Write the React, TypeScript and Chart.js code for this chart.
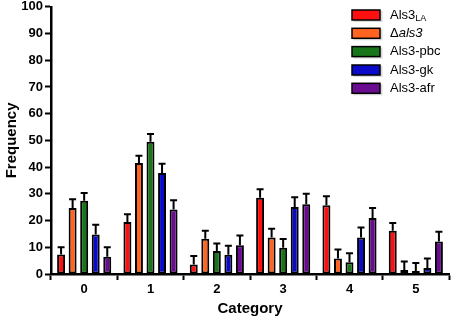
import React, { useEffect, useRef } from "react";
import { Chart, registerables } from "chart.js";

Chart.register(...registerables);

const categories = ["0", "1", "2", "3", "4", "5"];
const seriesNames = ["Als3LA", "Δals3", "Als3-pbc", "Als3-gk", "Als3-afr"];
const als3LA = [7.3, 19.5, 3.6, 28.5, 25.7, 16.2];
const als3LAErr = [2.7, 2.9, 3.1, 3.2, 3.4, 2.9];
const deltaAls3 = [24.7, 41.5, 13.2, 13.7, 5.8, 1.5];
const deltaAls3Err = [3.3, 2.8, 3.0, 3.2, 3.4, 3.2];
const als3Pbc = [27.4, 49.5, 8.6, 9.8, 4.4, 1.1];
const als3PbcErr = [2.9, 2.9, 2.8, 3.3, 3.4, 3.0];
const als3Gk = [14.8, 37.8, 7.2, 25.1, 13.7, 2.2];
const als3GkErr = [3.6, 3.5, 3.4, 3.6, 3.7, 3.6];
const als3Afr = [6.5, 24.1, 10.8, 26.1, 21.0, 12.2];
const als3AfrErr = [3.5, 3.5, 3.6, 3.9, 3.7, 3.6];
const colors = ["#ff1010", "#ff6420", "#197519", "#0a0ac8", "#6a0c90"];

const errors = [als3LAErr, deltaAls3Err, als3PbcErr, als3GkErr, als3AfrErr];

const FONT = "Arial, 'Liberation Sans', Helvetica, sans-serif";
const SHIFT = 3;

const errorBarPlugin = {
  id: "errorBars",
  afterDatasetsDraw(chart: any) {
    const ctx = chart.ctx;
    const yScale = chart.scales.y;
    ctx.save();
    ctx.strokeStyle = "#000";
    ctx.lineWidth = 2;
    chart.data.datasets.forEach((ds: any, i: number) => {
      const meta = chart.getDatasetMeta(i);
      meta.data.forEach((bar: any, j: number) => {
        const v = ds.data[j];
        const e = errors[i][j];
        const yTop = yScale.getPixelForValue(v + e);
        const yBar = yScale.getPixelForValue(v);
        ctx.beginPath();
        ctx.moveTo(bar.x, yBar);
        ctx.lineTo(bar.x, yTop);
        ctx.moveTo(bar.x - 3.5, yTop);
        ctx.lineTo(bar.x + 3.5, yTop);
        ctx.stroke();
      });
    });
    ctx.restore();
  },
};

const legendPlugin = {
  id: "customLegend",
  afterDraw(chart: any) {
    const ctx = chart.ctx;
    ctx.save();
    const x0 = 352;
    const rows = [15, 33.3, 51.6, 70, 88.3];
    rows.forEach((r, i) => {
      const cy = r + SHIFT;
      ctx.fillStyle = "rgba(0,0,0,0.15)";
      ctx.fillRect(x0 + 1.5, cy - 4, 29, 11);
      ctx.fillStyle = colors[i];
      ctx.fillRect(x0, cy - 5, 28, 10);
      ctx.strokeStyle = "#000";
      ctx.lineWidth = 1.5;
      ctx.strokeRect(x0, cy - 5, 28, 10);
      ctx.fillStyle = "#000";
      ctx.textBaseline = "middle";
      ctx.textAlign = "left";
      const tx = 390;
      if (i === 0) {
        ctx.font = `13px ${FONT}`;
        ctx.fillText("Als3", tx, cy);
        const w = ctx.measureText("Als3").width;
        ctx.font = `9px ${FONT}`;
        ctx.fillText("LA", tx + w, cy + 4);
      } else if (i === 1) {
        ctx.font = `13px ${FONT}`;
        ctx.fillText("Δ", tx, cy);
        const w = ctx.measureText("Δ").width;
        ctx.font = `italic 13px ${FONT}`;
        ctx.fillText("als3", tx + w, cy);
      } else {
        ctx.font = `13px ${FONT}`;
        ctx.fillText(seriesNames[i], tx, cy);
      }
    });
    ctx.restore();
  },
};

export default function App() {
  const ref = useRef<HTMLCanvasElement>(null);
  useEffect(() => {
    document.body.style.margin = "0";
    const seriesData = [als3LA, deltaAls3, als3Pbc, als3Gk, als3Afr];
    const chart = new Chart(ref.current!, {
      type: "bar",
      data: {
        labels: categories,
        datasets: seriesData.map((d, i) => ({
          label: seriesNames[i],
          data: d,
          backgroundColor: colors[i],
          borderColor: "#000",
          borderWidth: 2,
          borderSkipped: false,
          categoryPercentage: 0.87,
          barPercentage: 0.69,
        })),
      },
      options: {
        responsive: false,
        maintainAspectRatio: false,
        animation: false,
        layout: { padding: { left: 0, right: 5, top: 0, bottom: 0 } },
        plugins: { legend: { display: false }, tooltip: { enabled: false } },
        scales: {
          x: {
            offset: true,
            afterFit: (s: any) => { s.height = 44; },
            grid: { drawOnChartArea: false, drawTicks: true, tickLength: 6, tickColor: "#000", tickWidth: 2 },
            border: { display: true, color: "#000", width: 2.5 },
            ticks: { color: "#000", font: { family: FONT, size: 13, weight: "bold" }, padding: 2 },
            title: {
              display: true,
              text: "Category",
              color: "#000",
              font: { family: FONT, size: 15, weight: "bold" },
              padding: { top: 4, bottom: 0 },
            },
          },
          y: {
            min: 0,
            max: 100,
            afterFit: (s: any) => { s.width = 51; },
            ticks: { stepSize: 10, color: "#000", font: { family: FONT, size: 13, weight: "bold" }, padding: 2 },
            grid: { drawOnChartArea: false, drawTicks: true, tickLength: 6, tickColor: "#000", tickWidth: 2 },
            border: { display: true, color: "#000", width: 2.5 },
            title: {
              display: true,
              text: "Frequency",
              color: "#000",
              font: { family: FONT, size: 15, weight: "bold" },
              padding: { top: 3, bottom: 0 },
            },
          },
        },
      },
      plugins: [errorBarPlugin, legendPlugin],
    });
    return () => chart.destroy();
  }, []);
  return (
    <div style={{ width: 454, height: 318, background: "#fff", overflow: "hidden", position: "relative" }}>
      <canvas ref={ref} width={454} height={318 + SHIFT} style={{ position: "absolute", left: 0, top: -SHIFT }} />
    </div>
  );
}
